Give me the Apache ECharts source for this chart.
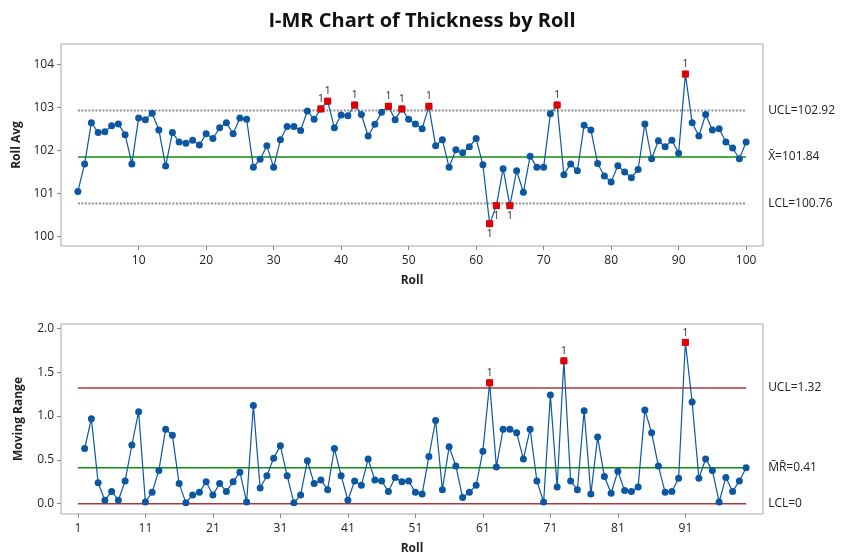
<!DOCTYPE html>
<html>
<head>
<meta charset="utf-8">
<title>I-MR Chart of Thickness by Roll</title>
<script src="https://cdn.jsdelivr.net/npm/echarts@6/dist/echarts.min.js"></script>
<style>
  html, body { margin: 0; padding: 0; background: #fff; }
  #chart { width: 844px; height: 559px; }
</style>
</head>
<body>
<div id="chart"></div>
<script>
// individual values, roll 1..100
const rollAvg = [
  101.04, 101.68, 102.64, 102.41, 102.43, 102.57, 102.61, 102.36, 101.68, 102.75,
  102.71, 102.86, 102.47, 101.63, 102.41, 102.19, 102.16, 102.23, 102.12, 102.38,
  102.27, 102.52, 102.64, 102.38, 102.75, 102.72, 101.60, 101.79, 102.10, 101.60,
  102.24, 102.55, 102.55, 102.46, 102.91, 102.72, 102.96, 103.14, 102.52, 102.82,
  102.80, 103.05, 102.83, 102.33, 102.60, 102.88, 103.02, 102.71, 102.96, 102.72,
  102.61, 102.50, 103.02, 102.10, 102.24, 101.60, 102.01, 101.94, 102.08, 102.27,
  101.66, 100.29, 100.71, 101.57, 100.71, 101.52, 101.02, 101.86, 101.60, 101.60,
  102.85, 103.05, 101.43, 101.68, 101.52, 102.58, 102.47, 101.69, 101.40, 101.26,
  101.64, 101.49, 101.36, 101.55, 102.61, 101.80, 102.22, 102.08, 102.23, 101.93,
  103.77, 102.64, 102.33, 102.83, 102.47, 102.50, 102.19, 102.05, 101.80, 102.19
];
// moving ranges, roll 2..100
const movingRange = [
  0.63, 0.97, 0.24, 0.04, 0.14, 0.04, 0.26, 0.67, 1.05,
  0.02, 0.13, 0.38, 0.85, 0.78, 0.23, 0.01, 0.10, 0.13, 0.25,
  0.10, 0.23, 0.14, 0.25, 0.36, 0.02, 1.12, 0.18, 0.32, 0.52,
  0.66, 0.32, 0.01, 0.10, 0.49, 0.23, 0.27, 0.16, 0.63, 0.32,
  0.04, 0.26, 0.21, 0.51, 0.27, 0.26, 0.14, 0.30, 0.25, 0.26,
  0.13, 0.11, 0.54, 0.95, 0.16, 0.65, 0.43, 0.07, 0.13, 0.21,
  0.60, 1.38, 0.42, 0.85, 0.85, 0.81, 0.51, 0.85, 0.26, 0.02,
  1.24, 0.19, 1.63, 0.26, 0.16, 1.06, 0.11, 0.76, 0.31, 0.12,
  0.37, 0.15, 0.14, 0.19, 1.07, 0.81, 0.43, 0.13, 0.14, 0.29,
  1.84, 1.16, 0.29, 0.51, 0.38, 0.02, 0.30, 0.14, 0.26, 0.41
];

const iLimits = { ucl: 102.92, center: 101.84, lcl: 100.76 };
const mrLimits = { ucl: 1.32, center: 0.41, lcl: 0 };

const xTicksI = [10, 20, 30, 40, 50, 60, 70, 80, 90, 100];
const xTicksMR = [1, 11, 21, 31, 41, 51, 61, 71, 81, 91];
const yTicksI = [100, 101, 102, 103, 104];
const yTicksMR = [0, 0.5, 1, 1.5, 2];

const FONT = "'Open Sans', 'Noto Sans', sans-serif";
const BLUE = '#0b57a4';
const RED = '#e00000';
const GREEN = '#118c11';
const DARKRED = '#a83a3a';
const GRAY = '#8f8f8f';

const iData = rollAvg.map((v, i) => [i + 1, v]);
const mrData = movingRange.map((v, i) => [i + 2, v]);

// out of control points (test 1)
const iFlag = iData
  .filter((d) => d[1] > iLimits.ucl || d[1] < iLimits.lcl)
  .map((d) => ({
    value: d,
    label: { position: d[1] < iLimits.lcl ? 'bottom' : 'top' },
  }));
const mrFlag = mrData.filter((d) => d[1] > mrLimits.ucl);

function limitLine(idx, y, color, type, text) {
  return {
    type: 'line',
    xAxisIndex: idx,
    yAxisIndex: idx,
    data: [[1, y], [100, y]],
    symbol: 'none',
    silent: true,
    lineStyle: { color: color, width: type === 'solid' ? 1.4 : 2, type: type },
    endLabel: {
      show: true,
      formatter: text,
      distance: 22,
      color: '#222',
      fontSize: 12,
      fontFamily: FONT,
    },
    z: 1,
  };
}

function xAxis(idx, ticks) {
  return {
    type: 'value',
    gridIndex: idx,
    min: -1.5,
    max: 102.5,
    name: 'Roll',
    nameLocation: 'middle',
    nameGap: 29,
    nameTextStyle: { fontFamily: FONT, fontSize: 12, fontWeight: 'bold', color: '#222' },
    axisLine: { show: false, onZero: false },
    axisTick: { show: true, inside: false, customValues: ticks, length: 4, lineStyle: { color: '#888' } },
    axisLabel: { customValues: ticks, margin: 9, fontFamily: FONT, fontSize: 12, color: '#222' },
    splitLine: { show: false },
  };
}

function yAxis(idx, name, min, max, ticks, fmt) {
  return {
    type: 'value',
    gridIndex: idx,
    min: min,
    max: max,
    name: name,
    nameLocation: 'middle',
    nameGap: 36,
    nameTextStyle: { fontFamily: FONT, fontSize: 12, fontWeight: 'bold', color: '#222' },
    axisLine: { show: false, onZero: false },
    axisTick: { show: true, inside: false, customValues: ticks, length: 4, lineStyle: { color: '#888' } },
    axisLabel: { customValues: ticks, margin: 7, fontFamily: FONT, fontSize: 12, color: '#222', formatter: fmt },
    splitLine: { show: false },
  };
}

const flagLabel = { show: true, formatter: '1', color: '#333', fontSize: 11, fontFamily: FONT, distance: 1 };

const chart = echarts.init(document.getElementById('chart'), null, { renderer: 'canvas' });
chart.setOption({
  animation: false,
  backgroundColor: '#fff',
  title: {
    text: 'I-MR Chart of Thickness by Roll',
    left: 'center',
    top: 6,
    textStyle: { fontFamily: FONT, fontSize: 20, fontWeight: 'bold', color: '#111' },
  },
  grid: [
    { left: 61, right: 81, top: 44, height: 202, show: true, borderColor: '#a6a6a6', borderWidth: 1, backgroundColor: '#fff' },
    { left: 61, right: 81, top: 324, height: 190, show: true, borderColor: '#a6a6a6', borderWidth: 1, backgroundColor: '#fff' },
  ],
  xAxis: [xAxis(0, xTicksI), xAxis(1, xTicksMR)],
  yAxis: [
    yAxis(0, 'Roll Avg', 99.77, 104.47, yTicksI, (v) => String(v)),
    yAxis(1, 'Moving Range', -0.117, 2.05, yTicksMR, (v) => v.toFixed(1)),
  ],
  series: [
    limitLine(0, iLimits.ucl, GRAY, [2, 1.5], 'UCL=' + iLimits.ucl),
    limitLine(0, iLimits.center, GREEN, 'solid', 'X\u0304=' + iLimits.center),
    limitLine(0, iLimits.lcl, GRAY, [2, 1.5], 'LCL=' + iLimits.lcl),
    limitLine(1, mrLimits.ucl, DARKRED, 'solid', 'UCL=' + mrLimits.ucl),
    limitLine(1, mrLimits.center, GREEN, 'solid', 'M\u0304R\u0304=' + mrLimits.center),
    limitLine(1, mrLimits.lcl, DARKRED, 'solid', 'LCL=' + mrLimits.lcl),
    {
      type: 'line',
      xAxisIndex: 0,
      yAxisIndex: 0,
      data: iData,
      symbol: 'circle',
      symbolSize: 7,
      lineStyle: { color: BLUE, width: 1.2 },
      itemStyle: { color: BLUE },
      z: 3,
    },
    {
      type: 'scatter',
      xAxisIndex: 0,
      yAxisIndex: 0,
      data: iFlag,
      symbol: 'rect',
      symbolSize: 7,
      itemStyle: { color: RED, opacity: 1 },
      label: flagLabel,
      z: 4,
    },
    {
      type: 'line',
      xAxisIndex: 1,
      yAxisIndex: 1,
      data: mrData,
      symbol: 'circle',
      symbolSize: 7,
      lineStyle: { color: BLUE, width: 1.2 },
      itemStyle: { color: BLUE },
      z: 3,
    },
    {
      type: 'scatter',
      xAxisIndex: 1,
      yAxisIndex: 1,
      data: mrFlag,
      symbol: 'rect',
      symbolSize: 7,
      itemStyle: { color: RED, opacity: 1 },
      label: Object.assign({}, flagLabel, { position: 'top' }),
      z: 4,
    },
  ],
});
</script>
</body>
</html>
